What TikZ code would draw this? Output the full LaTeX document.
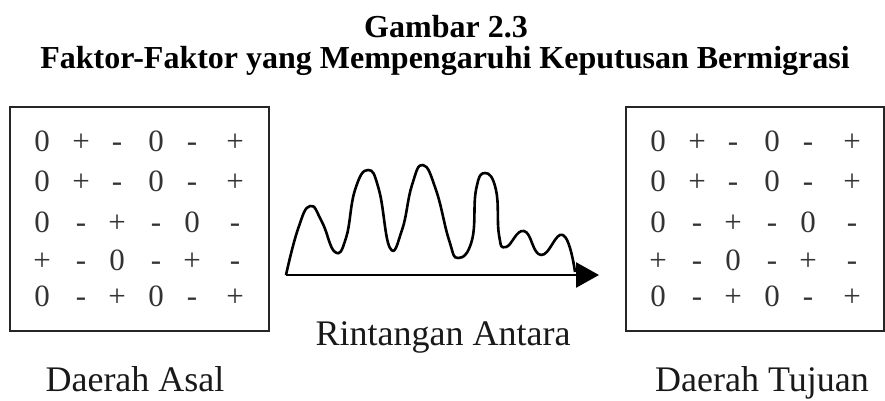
\documentclass[tikz,border=0pt]{standalone}
\usepackage{fontspec}
\setmainfont{Liberation Serif}
\usetikzlibrary{arrows.meta}
\tikzset{
  cell/.style={font=\fontsize{31}{31}\selectfont, text=black!80, inner sep=0pt, text height=21pt, text depth=0pt, anchor=center},
  region/.style={draw=black!85, line width=2pt},
  caption/.style={font=\fontsize{36}{36}\selectfont, inner sep=0pt, anchor=base, text=black!90},
  titletext/.style={font=\fontsize{32}{32}\selectfont\bfseries, inner sep=0pt, anchor=base},
  wave/.style={line width=2.6pt, line join=round},
}
\begin{document}
\begin{tikzpicture}[x=1pt,y=-1pt]
\useasboundingbox (0,0) rectangle (885,400);
\node[titletext] (t1) at (446,37) {Gambar 2.3};
\node[titletext] (t2) at (445,68) {Faktor-Faktor yang Mempengaruhi Keputusan Bermigrasi};
% boxes
\node[region, minimum width=259pt, minimum height=224pt, inner sep=0pt] (asal) at (139.5,219) {};
\node[region, minimum width=258pt, minimum height=224pt, inner sep=0pt] (tujuan) at (755,219) {};
% grids
\foreach \r/\y/\row in {1/141/{0,+,-,0,-,+},2/181/{0,+,-,0,-,+},3/222/{0,-,+,-,0,-},4/260/{+,-,0,-,+,-},5/296/{0,-,+,0,-,+}}{
  \foreach \s [count=\i] in \row {
    \pgfmathsetmacro\xa{{42,81,117,156,192,235}[\i-1]}
    \pgfmathsetmacro\xb{{658,697,733,772,808,852}[\i-1]}
    \node[cell] (a\r\i) at (\xa,\y) {\s};
    \node[cell] (b\r\i) at (\xb,\y) {\s};
  }
}
% barrier
\coordinate (s) at (286,275);
\coordinate (e) at (599,275);
\draw[wave] plot[smooth, tension=0.8] coordinates {(s) (298,229) (310,206) (322,222) (335,252) (346,238) (355,190) (368,170) (379,190) (390,248) (402,230) (412,185) (423,165) (436,190) (449,240) (458,258) (472,240) (476,190) (485,173) (496,190) (499,235) (506,247) (524,231) (541,255) (563,235) (575,272)};
\draw[line width=2.6pt, -{Triangle[length=23pt,width=25pt]}] (s) -- (e);
\node[caption] (ra) at (443,345) {Rintangan Antara};
\node[caption] (da) at (135,391) {Daerah Asal};
\node[caption] (dt) at (762,391) {Daerah Tujuan};
\end{tikzpicture}
\end{document}
